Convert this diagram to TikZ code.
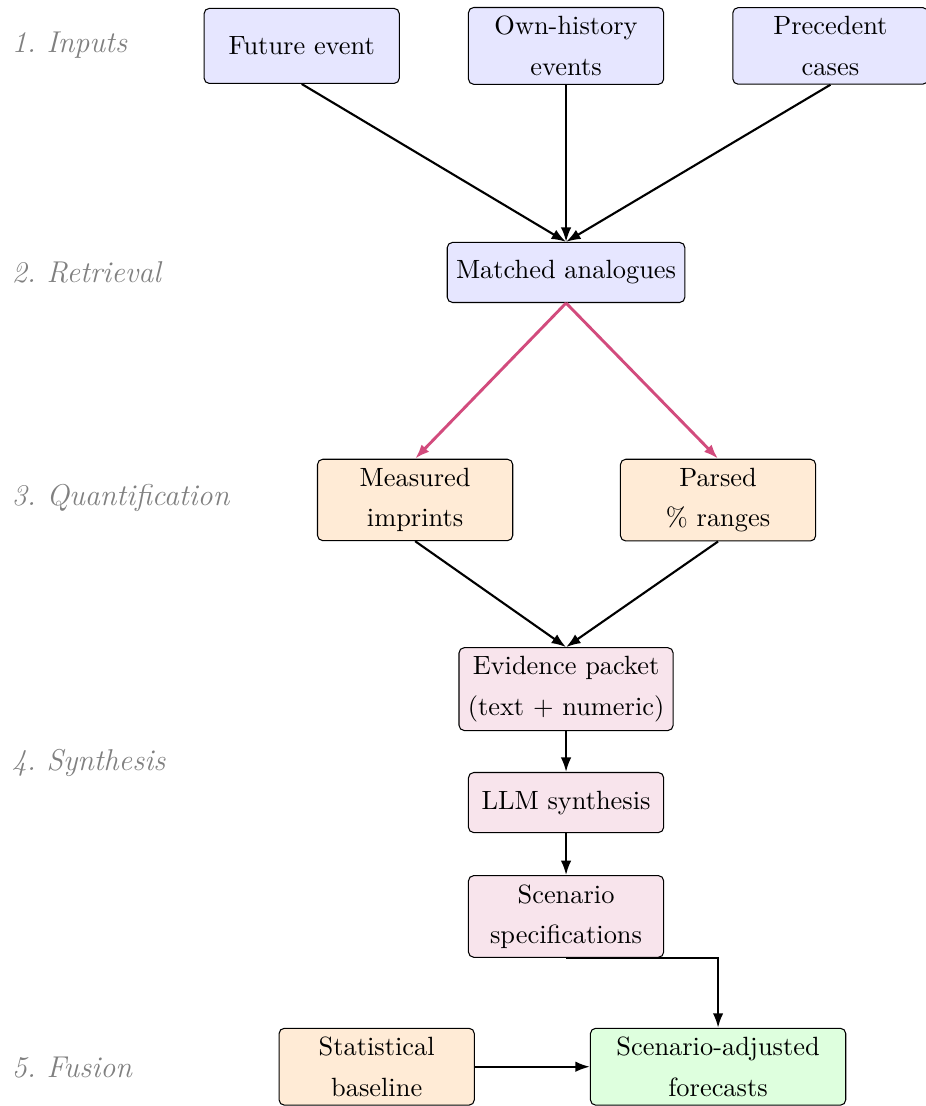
\documentclass[tikz,border=0pt]{standalone}
\usepackage{amsmath}
\usepackage{tikz}
\usetikzlibrary{arrows.meta, positioning}

\definecolor{inblue}{RGB}{230,230,255}
\definecolor{qorange}{RGB}{255,235,214}
\definecolor{synpink}{RGB}{248,228,236}
\definecolor{fusgreen}{RGB}{222,255,222}
\definecolor{retrpink}{RGB}{210,75,125}

\begin{document}
\begin{tikzpicture}[
		box/.style={draw, rounded corners=2pt, align=center, minimum width=2.6cm, minimum height=0.8cm},
		arrow/.style={-{Latex[length=5.5pt,width=4pt]}, thick},
		stage/.style={anchor=west, text=gray, font=\fontsize{11.4}{13.5}\selectfont\itshape}
		]
		
		\useasboundingbox (-214.5pt,17.4pt) rectangle (136.1pt,-401.7pt);
		
		% Nodes
		\node[box, fill=inblue, minimum height=1cm] (own) at (0,0) {Own-history\\[3.3pt]events};
		
		\node[box, fill=inblue, minimum height=1cm, left=25.8pt of own] (future) {Future event};
		
		\node[box, fill=inblue, minimum height=1cm, right=25.8pt of own] (prec) {Precedent\\[3.3pt]cases};
		
		\node[box, fill=inblue, below=59.5pt of own] (match) {Matched analogues};
		
		\node[box, fill=qorange, below=59pt of match, xshift=-57.2pt] (meas) {Measured\\[3.3pt]imprints};
		
		\node[box, fill=qorange, below=59pt of match, xshift=57.6pt] (parsed) {Parsed\\[3.3pt]\% ranges};
		
		\node[box, fill=synpink, below=130.4pt of match] (evid) {Evidence packet\\[3.3pt](text + numeric)};
		
		\node[box, fill=synpink, below=15.5pt of evid] (llm) {LLM synthesis};
		
		\node[box, fill=synpink, below=15.9pt of llm] (scen) {Scenario\\[3.3pt]specifications};
		
		\node[box, fill=fusgreen, minimum width=3.4cm, below=26.5pt of scen, xshift=57.6pt] (fcast) {Scenario-adjusted\\[3.3pt]forecasts};
		
		\node[box, fill=qorange, left=43.6pt of fcast] (base) {Statistical\\[3.3pt]baseline};
		
		% Stage labels
		\node[stage] (s1) at (-213.5pt,0.4pt) {1.\ Inputs};
		\node[stage] (s2) at (-213.5pt,-86pt) {2.\ Retrieval};
		\node[stage] (s3) at (-213.5pt,-171.3pt) {3.\ Quantification};
		\node[stage] (s4) at (-213.5pt,-271.7pt) {4.\ Synthesis};
		\node[stage] (s5) at (-213.5pt,-387.3pt) {5.\ Fusion};
		
		% Arrows
		\draw[arrow] (future.south) -- (match.north);
		\draw[arrow] (own) -- (match);
		\draw[arrow] (prec.south) -- (match.north);
		\draw[arrow, retrpink, line width=1.1pt] (match.south) -- (meas.north);
		\draw[arrow, retrpink, line width=1.1pt] (match.south) -- (parsed.north);
		\draw[arrow] (meas.south) -- (evid.north);
		\draw[arrow] (parsed.south) -- (evid.north);
		\draw[arrow] (evid) -- (llm);
		\draw[arrow] (llm) -- (scen);
		\draw[arrow] (scen.south) -| (fcast.north);
		\draw[arrow] (base) -- (fcast);
		
	\end{tikzpicture}
\end{document}
